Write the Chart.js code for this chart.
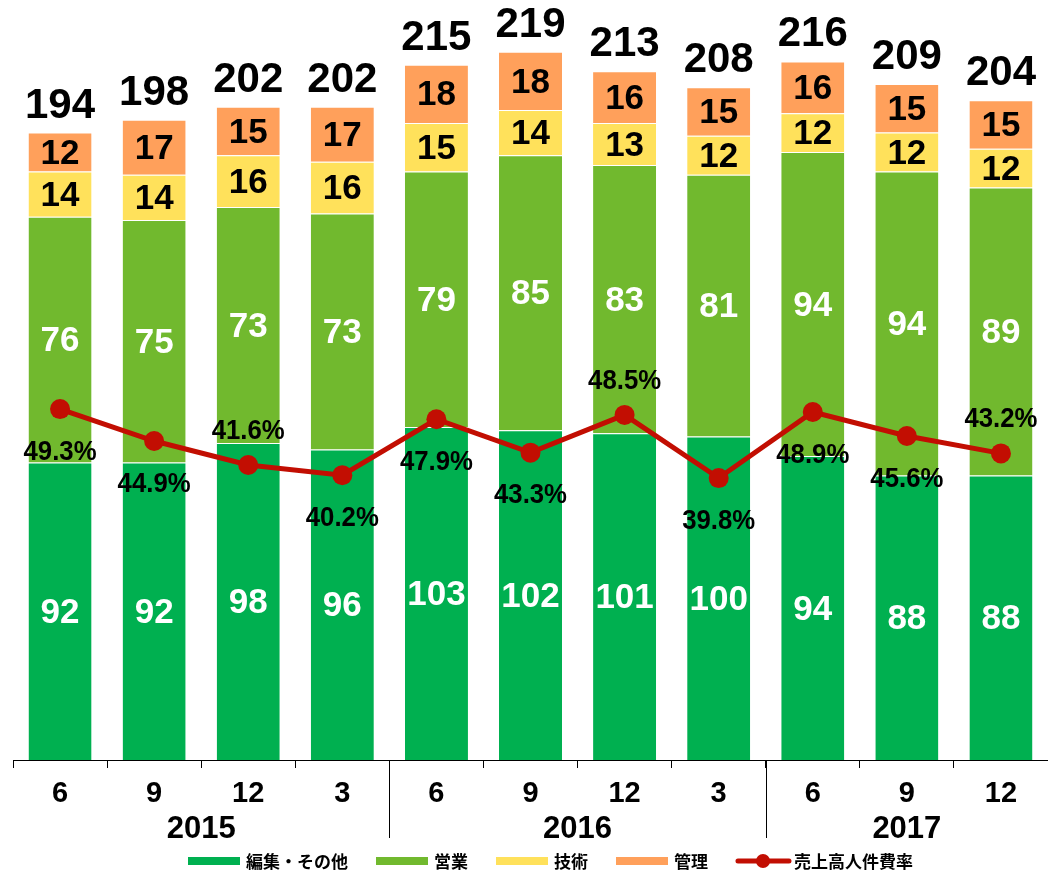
<!DOCTYPE html>
<html lang="ja">
<head>
<meta charset="utf-8">
<title>人員推移</title>
<script src="https://cdn.jsdelivr.net/npm/chart.js@4.4.1/dist/chart.umd.min.js"></script>
<style>
    html, body { margin: 0; padding: 0; background: #fff; }
    canvas { display: block; }
</style>
</head>
<body>
<canvas id="staffChart" width="1048" height="871"></canvas>
<script>
// data
const months = ['6', '9', '12', '3', '6', '9', '12', '3', '6', '9', '12'];
const years = ['2015', '2016', '2017'];
const yearGroupSizes = [4, 4, 3];

const editorial = [92, 92, 98, 96, 103, 102, 101, 100, 94, 88, 88];
const sales = [76, 75, 73, 73, 79, 85, 83, 81, 94, 94, 89];
const technical = [14, 14, 16, 16, 15, 14, 13, 12, 12, 12, 12];
const admin = [12, 17, 15, 17, 18, 18, 16, 15, 16, 15, 15];
const totals = [194, 198, 202, 202, 215, 219, 213, 208, 216, 209, 204];
const laborCostRatio = [49.3, 44.9, 41.6, 40.2, 47.9, 43.3, 48.5, 39.8, 48.9, 45.6, 43.2];

// where each ratio label sits relative to its point
const ratioLabelSide = ['below', 'below', 'above', 'below', 'below', 'below', 'above', 'below', 'below', 'below', 'above'];

const COLORS = {
    editorial: '#00B050',
    sales: '#71B92E',
    technical: '#FFE15B',
    admin: '#FFA05B',
    line: '#C20E02'
};
const FONT = "'Liberation Sans', Arial, sans-serif";
const CJK_FONT = "'Noto Sans CJK JP', 'Noto Sans CJK SC', sans-serif";

function barSet(label, data, color) {
    return {
        label: label,
        data: data,
        backgroundColor: color,
        borderColor: 'rgba(255,255,255,0.45)',
        borderWidth: { top: 1, left: 0, right: 0, bottom: 0 },
        borderSkipped: false,
        stack: 'staff',
        yAxisID: 'y',
        order: 1,
        barPercentage: 0.67,
        categoryPercentage: 1.0
    };
}

const labelPlugin = {
    id: 'valueLabels',
    afterDatasetsDraw(chart) {
        const ctx = chart.ctx;
        ctx.save();
        ctx.textAlign = 'center';

        // segment values
        for (let i = 0; i < 4; i++) {
            const meta = chart.getDatasetMeta(i);
            const values = chart.data.datasets[i].data;
            ctx.fillStyle = i < 2 ? '#fff' : '#000';
            ctx.font = 'bold 35px ' + FONT;
            ctx.textBaseline = 'middle';
            meta.data.forEach((bar, j) => {
                const cy = (bar.y + bar.base) / 2 + 2;
                ctx.fillText(values[j], bar.x, cy);
            });
        }

        // totals above each stack
        const topMeta = chart.getDatasetMeta(3);
        ctx.fillStyle = '#000';
        ctx.font = 'bold 42px ' + FONT;
        ctx.textBaseline = 'alphabetic';
        topMeta.data.forEach((bar, j) => {
            ctx.fillText(totals[j], bar.x, bar.y - 15);
        });

        // ratio labels
        const lineMeta = chart.getDatasetMeta(4);
        ctx.font = 'bold 28px ' + FONT;
        ctx.textBaseline = 'middle';
        lineMeta.data.forEach((pt, j) => {
            const dy = ratioLabelSide[j] === 'above' ? -34 : 43;
            ctx.save();
            ctx.translate(pt.x, pt.y + dy);
            ctx.scale(0.92, 1);
            ctx.fillText(laborCostRatio[j].toFixed(1) + '%', 0, 0);
            ctx.restore();
        });
        ctx.restore();
    }
};

const yearPlugin = {
    id: 'yearGroups',
    afterDraw(chart) {
        const ctx = chart.ctx;
        const xScale = chart.scales.x;
        const half = (xScale.getPixelForValue(1) - xScale.getPixelForValue(0)) / 2;
        const axisY = chart.chartArea.bottom;
        ctx.save();
        ctx.font = 'bold 31px ' + FONT;
        ctx.fillStyle = '#000';
        ctx.textAlign = 'center';
        ctx.textBaseline = 'alphabetic';
        ctx.strokeStyle = '#000';
        ctx.lineWidth = 1;
        let start = 0;
        years.forEach((year, k) => {
            const end = start + yearGroupSizes[k] - 1;
            const left = xScale.getPixelForValue(start) - half;
            const right = Math.min(xScale.getPixelForValue(end) + half, chart.width);
            ctx.fillText(year, (left + right) / 2, 838);
            if (k > 0) {
                const sx = Math.round(left) + 0.5;
                ctx.beginPath();
                ctx.moveTo(sx, axisY);
                ctx.lineTo(sx, 838);
                ctx.stroke();
            }
            start = end + 1;
        });
        ctx.restore();
    }
};

const legendPlugin = {
    id: 'customLegend',
    afterDraw(chart) {
        const ctx = chart.ctx;
        const items = chart.data.datasets.map(ds => ({
            label: ds.label,
            color: ds.type === 'line' ? ds.borderColor : ds.backgroundColor,
            isLine: ds.type === 'line'
        }));
        const y = 861;
        let x = 188;
        ctx.save();
        ctx.font = 'bold 17px ' + CJK_FONT;
        ctx.textBaseline = 'middle';
        ctx.textAlign = 'left';
        items.forEach(item => {
            if (item.isLine) {
                ctx.strokeStyle = item.color;
                ctx.lineWidth = 5;
                ctx.lineCap = 'round';
                ctx.beginPath();
                ctx.moveTo(x + 2, y);
                ctx.lineTo(x + 53, y);
                ctx.stroke();
                ctx.fillStyle = item.color;
                ctx.beginPath();
                ctx.arc(x + 27, y, 7, 0, Math.PI * 2);
                ctx.fill();
            } else {
                ctx.fillStyle = item.color;
                ctx.fillRect(x, y - 4, 52, 8);
            }
            ctx.fillStyle = '#000';
            ctx.fillText(item.label, x + 58, y + 1);
            x += 58 + ctx.measureText(item.label).width + 28;
        });
        ctx.restore();
    }
};

const ctx = document.getElementById('staffChart').getContext('2d');
const staffChart = new Chart(ctx, {
    type: 'bar',
    data: {
        labels: months,
        datasets: [
            barSet('編集・その他', editorial, COLORS.editorial),
            barSet('営業', sales, COLORS.sales),
            barSet('技術', technical, COLORS.technical),
            barSet('管理', admin, COLORS.admin),
            {
                type: 'line',
                label: '売上高人件費率',
                data: laborCostRatio,
                borderColor: COLORS.line,
                backgroundColor: COLORS.line,
                borderWidth: 5,
                pointRadius: 10,
                pointHoverRadius: 10,
                pointBackgroundColor: COLORS.line,
                pointBorderWidth: 0,
                tension: 0,
                clip: false,
                yAxisID: 'y1',
                order: 0
            }
        ]
    },
    options: {
        responsive: false,
        animation: false,
        devicePixelRatio: 1,
        layout: {
            autoPadding: false,
            padding: { left: 13, right: 0, top: 0, bottom: 0 }
        },
        scales: {
            x: {
                stacked: true,
                grid: {
                    offset: true,
                    drawOnChartArea: false,
                    drawTicks: true,
                    tickLength: 8,
                    color: '#000'
                },
                border: { display: true, color: '#000', width: 1 },
                ticks: {
                    color: '#000',
                    padding: 9,
                    font: { family: FONT, size: 29, weight: 'bold' },
                    maxRotation: 0,
                    autoSkip: false
                },
                afterFit(scale) {
                    scale.height = 111;
                    scale.paddingLeft = 0;
                    scale.paddingRight = 0;
                }
            },
            y: {
                stacked: true,
                display: false,
                min: 0,
                max: 235
            },
            y1: {
                display: false,
                min: 1,
                max: 105.6
            }
        },
        plugins: {
            legend: { display: false },
            tooltip: { enabled: false }
        }
    },
    plugins: [labelPlugin, yearPlugin, legendPlugin]
});
</script>
</body>
</html>
